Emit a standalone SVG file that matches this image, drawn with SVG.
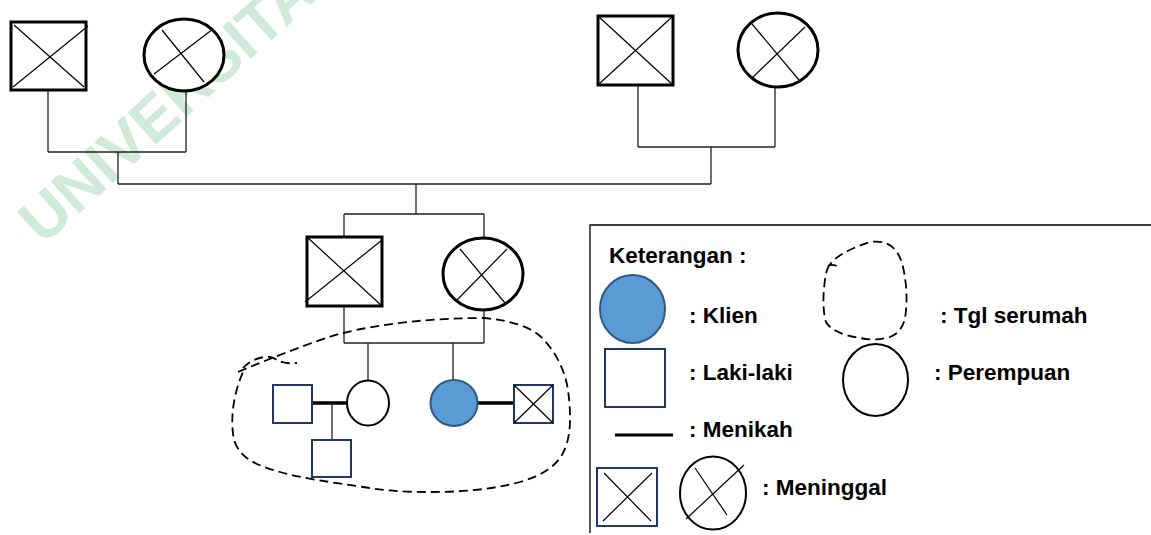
<svg xmlns="http://www.w3.org/2000/svg" width="1151" height="535" viewBox="0 0 1151 535">
<style>
.wm{font-family:"Liberation Sans",Arial,sans-serif;font-weight:bold;font-size:62px;fill:#cfeadb}
.ln{stroke:#222;stroke-width:1.3;fill:none}
.bx{fill:#fff;stroke:#000;stroke-width:3}
.ov{fill:#fff;stroke:#000;stroke-width:3}
.x{stroke:#000;stroke-width:1.2}
.sm{fill:#fff;stroke:#1f3864;stroke-width:2}
.so{fill:#fff;stroke:#000;stroke-width:2}
.kl{fill:#5b9bd5;stroke:#2f5a85;stroke-width:2}
.mar{stroke:#000;stroke-width:3.5}
.dash{fill:none;stroke:#000;stroke-width:1.8;stroke-dasharray:9 5}
.t{font-family:"Liberation Sans",Arial,sans-serif;font-weight:bold;font-size:22.5px;fill:#000}
</style>
<rect width="1151" height="535" fill="#fff"/>
<text class="wm" x="43" y="246" transform="rotate(-42 43 246)">UNIVERSITAS</text>

<g id="connectors">
<path class="ln" d="M48,91 V152 M186,91 V152 M48,152 H186 M118,152 V184"/>
<path class="ln" d="M638,85 V147 M775,87 V147 M638,147 H775 M711,147 V184"/>
<path class="ln" d="M118,184 H711 M416,184 V214 M344,214 H484 M344,214 V237 M484,214 V239"/>
<path class="ln" d="M344,306 V343 M484,310 V343 M344,343 H484 M368,343 V380 M453,343 V380"/>
<path class="mar" d="M312,403 H347 M477,403 H514"/>
<path class="ln" d="M332,403 V440"/>
</g>

<g id="gf1"><rect class="bx" x="11" y="22" width="75" height="68"/><path class="x" d="M14,25 L84,87 M13,87 L88,26"/></g>
<g id="gm1"><ellipse class="ov" cx="184" cy="55" rx="40" ry="36"/><path class="x" d="M162,30 L204,82 M154,74 L213,29"/></g>
<g id="gf2"><rect class="bx" x="598" y="16" width="75" height="69"/><path class="x" d="M598,16 L673,85 M598,85 L673,16"/></g>
<g id="gm2"><ellipse class="ov" cx="778" cy="50" rx="40" ry="37"/><path class="x" d="M752,24 L799,80 M753,77 L805,27"/></g>
<g id="father"><rect class="bx" x="307" y="237" width="75" height="69"/><path class="x" d="M307,237 L382,306 M305,302 L382,240"/></g>
<g id="mother"><ellipse class="ov" cx="483" cy="274" rx="40" ry="36"/><path class="x" d="M457,300 L507,249 M460,249 L505,303"/></g>
<g id="brotherinlaw"><rect class="sm" x="273" y="385" width="39" height="38"/></g>
<g id="sister"><ellipse class="so" cx="368" cy="403" rx="21" ry="22.5"/></g>
<g id="nephew"><rect class="sm" x="312" y="440" width="39" height="37"/></g>
<g id="client"><ellipse class="kl" cx="454" cy="403" rx="23.5" ry="23"/></g>
<g id="husband"><rect class="sm" x="514" y="385" width="39" height="38"/><path class="x" d="M514,385 L553,423 M514,423 L553,385"/></g>

<g id="household">
<path class="dash" d="M238,372 C290,350 330,336 343,333 C380,324 430,318 483,318 C510,320 530,327 540,336 C555,350 565,370 568,390 C572,420 570,440 563,453 C555,468 540,476 520,482 C490,490 460,492 430,492 C400,492 380,490 363,487 C330,482 300,478 280,472 C255,465 240,458 234,440 C230,420 233,395 243,372"/>
<path class="dash" d="M243,368 C250,360 262,356 270,357 C276,358 278,362 282,362 C288,364 294,363 297,363"/>
</g>

<g id="legend">
<path stroke="#000" stroke-width="1.3" fill="none" d="M590,533 V225 H1151"/>
<text class="t" x="609" y="263">Keterangan :</text>
<ellipse class="kl" cx="632.5" cy="309" rx="32.5" ry="34"/>
<text class="t" x="689" y="323">: Klien</text>
<path class="dash" d="M827,270 C830,260 845,250 870,242 C885,240 898,245 903,267 C907,285 907,300 906,310 C905,325 900,333 890,337 C880,340 870,340 860,338 C845,336 830,330 826,322 C822,310 823,285 827,270"/>
<path class="dash" d="M828,266 C832,263 836,266 840,267"/>
<text class="t" x="940" y="323">: Tgl serumah</text>
<rect class="sm" x="605" y="349" width="60" height="58"/>
<text class="t" x="689" y="380">: Laki-laki</text>
<ellipse class="so" cx="875.5" cy="380" rx="32.5" ry="36"/>
<text class="t" x="934" y="380">: Perempuan</text>
<path stroke="#000" stroke-width="3" d="M615,435 H673"/>
<text class="t" x="689" y="437">: Menikah</text>
<rect class="sm" x="597" y="468" width="60" height="58"/>
<path class="x" d="M604,473 L651,521 M603,521 L652,473"/>
<ellipse class="so" cx="713" cy="493" rx="33" ry="36.5"/>
<path class="x" d="M695,468 L727,515 M686,519 L744,465"/>
<text class="t" x="762" y="495">: Meninggal</text>
</g>
</svg>
